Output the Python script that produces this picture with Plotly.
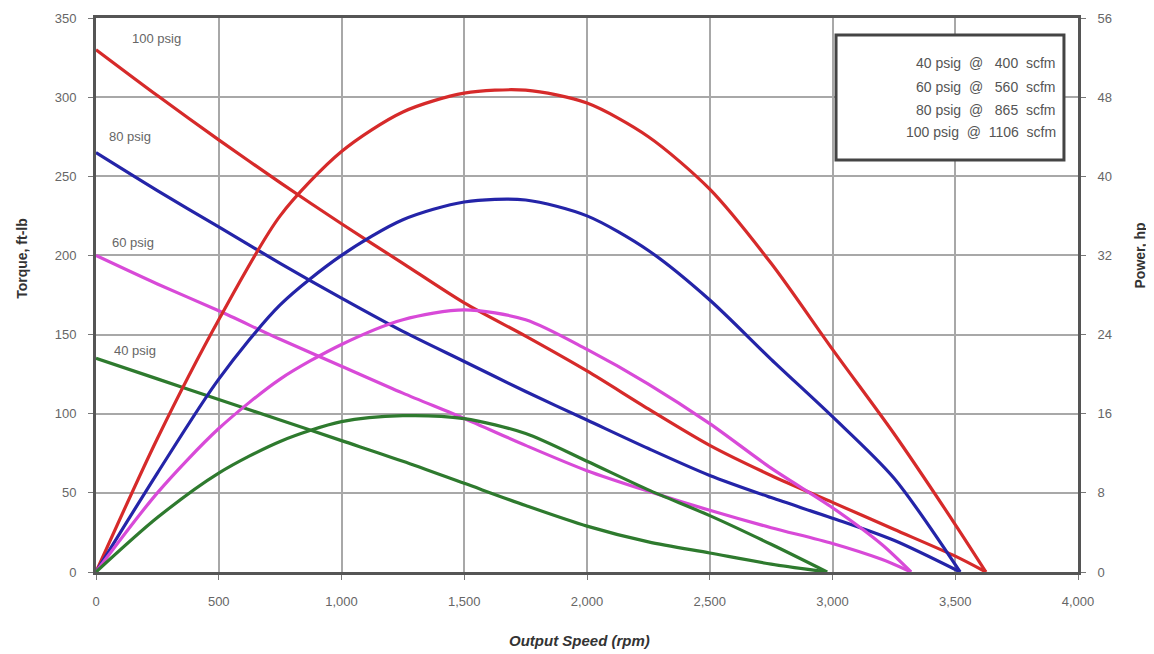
import plotly.graph_objects as go

# ---- data ----
rpm_red = [0, 250, 500, 750, 1000, 1250, 1500, 1750, 2000, 2250, 2500, 2750, 3000, 3250, 3500, 3625]
torque_red = [330, 301, 273, 246, 220, 195, 170, 149, 127, 103, 80, 61, 44, 27, 10, 0]
power_red = [0, 13.5, 25.5, 36, 42.5, 46.5, 48.4, 48.7, 47.4, 44, 38.7, 31.2, 22.5, 14, 4.8, 0]

rpm_blue = [0, 250, 500, 750, 1000, 1250, 1500, 1750, 2000, 2250, 2500, 2750, 3000, 3250, 3520]
torque_blue = [265, 241, 218, 195, 173, 152, 133, 114, 96, 78, 61, 47, 34, 20, 0]
power_blue = [0, 10, 19.5, 27, 32, 35.6, 37.4, 37.6, 36, 32.5, 27.5, 21.5, 15.7, 9.5, 0]

rpm_pink = [0, 250, 500, 750, 1000, 1250, 1500, 1750, 2000, 2250, 2500, 2750, 3000, 3200, 3320]
torque_pink = [200, 182, 165, 147, 130, 113, 97, 80, 64, 51, 39, 28, 18, 8, 0]
power_pink = [0, 8, 14.5, 19.5, 23, 25.5, 26.5, 25.5, 22.5, 19, 15, 10.5, 6.5, 2.8, 0]

rpm_green = [0, 250, 500, 750, 1000, 1250, 1500, 1750, 2000, 2250, 2500, 2750, 2978]
torque_green = [135, 122, 109, 96, 83, 70, 56, 42, 29, 19, 12, 5, 0]
power_green = [0, 5.5, 10, 13.2, 15.2, 15.8, 15.5, 14, 11.2, 8.3, 5.7, 2.8, 0]

curve_labels = ["100 psig", "80 psig", "60 psig", "40 psig"]
legend_rows = ["40 psig  @   400  scfm", "60 psig  @   560  scfm", "80 psig  @   865  scfm", "100 psig  @  1106  scfm"]

x_ticks = [0, 500, 1000, 1500, 2000, 2500, 3000, 3500, 4000]
torque_ticks = [0, 50, 100, 150, 200, 250, 300, 350]
power_ticks = [0, 8, 16, 24, 32, 40, 48, 56]

# ---- styles ----
colors = ["#d62a2a", "#2424a8", "#d84ad8", "#2e7a2e"]
series = [
    (rpm_red, torque_red, power_red),
    (rpm_blue, torque_blue, power_blue),
    (rpm_pink, torque_pink, power_pink),
    (rpm_green, torque_green, power_green),
]

fig = go.Figure()
for (rpm, tq, pw), c in zip(series, colors):
    fig.add_trace(go.Scatter(x=rpm, y=tq, mode="lines", line=dict(color=c, width=3.2, shape="spline", smoothing=0.8),
                             showlegend=False, yaxis="y"))
    fig.add_trace(go.Scatter(x=rpm, y=pw, mode="lines", line=dict(color=c, width=3.2, shape="spline", smoothing=0.8),
                             showlegend=False, yaxis="y2"))

FONT = "Arial, Liberation Sans, sans-serif"
tick_font = dict(family=FONT, size=13, color="#666")
grid = "#a8a8a8"

fig.update_layout(
    width=1146, height=646,
    margin=dict(l=88, r=76, t=10, b=82),
    paper_bgcolor="white", plot_bgcolor="white",
    xaxis=dict(range=[0, 4000], tickvals=x_ticks, tickformat=",", showgrid=True, gridcolor=grid, gridwidth=2,
               showline=True, linecolor="#555", linewidth=3, mirror=True, ticks="outside", ticklen=5,
               tickcolor="#777", tickfont=tick_font, zeroline=False, ticklabelstandoff=10, automargin=False),
    yaxis=dict(range=[0, 350], tickvals=torque_ticks, showgrid=True, gridcolor=grid, gridwidth=2,
               showline=True, linecolor="#555", linewidth=3, mirror=True, ticks="outside", ticklen=5,
               tickcolor="#777", tickfont=tick_font, zeroline=False, ticklabelstandoff=9, automargin=False),
    yaxis2=dict(range=[0, 56], tickvals=power_ticks, overlaying="y", side="right", showgrid=False,
                showline=True, linecolor="#555", linewidth=3, ticks="outside", ticklen=5,
                tickcolor="#777", tickfont=tick_font, zeroline=False, ticklabelstandoff=9, automargin=False),
)

title_font = dict(family=FONT, size=14, color="#333")
fig.add_annotation(text="<b>Torque, ft-lb</b>", xref="paper", yref="paper", x=-0.0754, y=0.567,
                   xanchor="center", yanchor="middle", textangle=-90, showarrow=False, font=title_font)
fig.add_annotation(text="<b>Power, hp</b>", xref="paper", yref="paper", x=1.0635, y=0.572,
                   xanchor="center", yanchor="middle", textangle=-90, showarrow=False, font=title_font)
fig.add_annotation(text="<b><i>Output Speed (rpm)</i></b>", xref="paper", yref="paper", x=0.492, y=-0.1245,
                   xanchor="center", yanchor="middle", showarrow=False,
                   font=dict(family=FONT, size=15, color="#333"))

# curve labels near the stall-torque end
lab_font = dict(family=FONT, size=13, color="#666")
label_pos = [(138, 337), (45, 275), (57, 208), (65, 140)]
for txt, (xx, yy) in zip(curve_labels, label_pos):
    fig.add_annotation(text=txt, x=xx, y=yy, xref="x", yref="y", xanchor="left", yanchor="middle",
                       showarrow=False, font=lab_font)

# legend box
fig.add_shape(type="rect", xref="paper", yref="paper", x0=0.7536, x1=0.9857, y0=0.7437, y1=0.9693,
              line=dict(color="#444", width=3), fillcolor="white", layer="above")
leg_y = [0.9188, 0.8755, 0.834, 0.794]
for txt, yy in zip(legend_rows, leg_y):
    fig.add_annotation(text=txt.replace(" ", "&nbsp;"), xref="paper", yref="paper", x=0.9796, y=yy,
                       xanchor="right", yanchor="middle", showarrow=False,
                       font=dict(family=FONT, size=14, color="#555"))

fig.write_html("out.html")
